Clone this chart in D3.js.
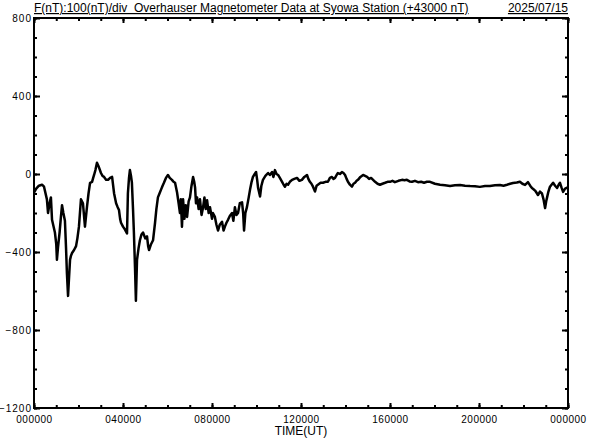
<!DOCTYPE html>
<html>
<head>
<meta charset="utf-8">
<script src="https://cdn.jsdelivr.net/npm/d3@7"></script>
<style>
  body { margin: 0; background: #fff; }
  text { font-family: "Liberation Sans", Arial, sans-serif; fill: #000; }
</style>
</head>
<body>
<script>
// hours since 00 UT, F - 43000 (nT)
let hours = [0.00,0.10,0.22,0.36,0.45,0.58,0.63,0.70,0.76,0.81,0.94,1.00,1.03,1.08,1.15,1.21,1.26,1.32,1.39,1.44,
  1.48,1.53,1.58,1.62,1.66,1.71,1.80,1.89,1.95,2.02,2.11,2.20,2.29,2.38,2.45,2.52,2.61,2.66,2.70,2.76,
  2.83,2.90,3.01,3.08,3.15,3.24,3.33,3.42,3.51,3.60,3.69,3.76,3.82,3.87,3.91,4.00,4.09,4.18,4.22,4.27,
  4.31,4.36,4.40,4.45,4.49,4.54,4.58,4.63,4.70,4.76,4.83,4.90,5.00,5.08,5.13,5.17,5.26,5.35,5.44,5.50,
  5.57,5.64,5.71,5.78,5.84,5.93,6.02,6.10,6.20,6.27,6.34,6.43,6.50,6.56,6.60,6.65,6.70,6.76,6.82,6.88,
  6.95,7.01,7.08,7.15,7.20,7.24,7.28,7.33,7.40,7.46,7.53,7.60,7.66,7.72,7.78,7.85,7.91,8.00,8.04,8.13,
  8.20,8.27,8.35,8.45,8.52,8.58,8.65,8.72,8.80,8.90,8.96,9.03,9.10,9.17,9.25,9.35,9.40,9.44,9.50,9.57,
  9.65,9.71,9.78,9.84,9.92,9.98,10.03,10.07,10.16,10.22,10.29,10.40,10.52,10.60,10.70,10.76,10.83,10.90,10.97,11.05,
  11.15,11.22,11.28,11.35,11.42,11.50,11.60,11.70,11.82,11.93,12.04,12.15,12.27,12.33,12.40,12.47,12.54,12.63,12.70,12.76,
  12.88,12.99,13.10,13.21,13.30,13.39,13.46,13.53,13.60,13.66,13.75,13.84,13.91,13.98,14.05,14.11,14.20,14.29,14.36,14.43,
  14.50,14.56,14.67,14.79,14.88,14.97,15.06,15.15,15.24,15.33,15.44,15.55,15.66,15.78,15.89,16.00,16.11,16.22,16.38,16.54,
  16.65,16.76,16.88,16.99,17.12,17.26,17.40,17.53,17.66,17.80,18.02,18.25,18.47,18.70,18.92,19.15,19.37,19.60,19.82,20.04,
  20.27,20.49,20.72,20.94,21.10,21.26,21.40,21.53,21.70,21.84,21.95,22.07,22.20,22.30,22.38,22.45,22.52,22.58,22.65,22.74,
  22.83,22.90,22.97,23.02,23.06,23.12,23.19,23.26,23.33,23.42,23.51,23.58,23.64,23.71,23.78,23.87,23.96,24.00];

let fValues = [-95,-75,-60,-55,-65,-130,-200,-150,-120,-235,-300,-360,-440,-375,-300,-220,-160,-200,-240,-380,
  -510,-625,-520,-440,-420,-405,-390,-370,-330,-270,-130,-150,-270,-170,-100,-45,-40,-20,-5,20,
  58,40,5,-10,-15,-30,-30,-20,-15,-100,-150,-170,-185,-230,-250,-270,-285,-305,-100,-20,
  20,-10,-45,-180,-300,-480,-650,-440,-380,-340,-310,-300,-330,-320,-370,-390,-360,-340,-250,-180,
  -120,-100,-80,-60,-45,-20,-5,-20,-30,-40,-45,-95,-150,-200,-130,-270,-130,-230,-160,-220,
  -140,-120,-60,-15,-40,-70,-150,-120,-180,-130,-210,-170,-120,-180,-135,-200,-170,-230,-200,-220,
  -260,-290,-260,-245,-290,-270,-250,-235,-215,-200,-240,-170,-210,-200,-150,-145,-200,-290,-200,-170,
  -120,-80,-40,-15,0,10,-30,-70,-115,-60,-30,-10,5,-5,10,-15,20,0,-5,-20,
  -40,-55,-65,-50,-55,-40,-30,-25,-20,-35,-30,-15,-5,-25,-40,-50,-65,-90,-60,-55,
  -45,-45,-40,-40,-20,-15,-25,-20,-5,5,0,10,5,-5,-25,-40,-55,-65,-50,-45,
  -35,-30,-15,-5,-10,-15,-25,-20,-30,-40,-50,-55,-50,-45,-40,-40,-35,-42,-35,-30,
  -32,-30,-38,-40,-35,-42,-40,-45,-40,-40,-50,-55,-58,-62,-58,-56,-60,-62,-63,-66,
  -62,-62,-58,-56,-60,-55,-50,-46,-44,-40,-50,-56,-42,-60,-72,-78,-85,-95,-108,-90,
  -100,-130,-175,-140,-120,-90,-65,-55,-45,-60,-72,-55,-45,-70,-92,-75,-70,-75];

let yTicksMajor = [800, 400, 0, -400, -800, -1200];
let xTicksMajor = [0, 4, 8, 12, 16, 20, 24];

let width = 592, height = 440;
let plotL = 34, plotR = 568, plotT = 18, plotB = 408;

let x = d3.scaleLinear().domain([0, 24]).range([plotL, plotR]);
let y = d3.scaleLinear().domain([-1200, 800]).range([plotB, plotT]);

let svg = d3.select("body").append("svg")
    .attr("width", width)
    .attr("height", height);

let fmtTime = function(h) { return d3.format("02d")(h % 24) + "0000"; };

let minorX = d3.range(0, 25, 1);
let minorY = d3.range(-1200, 801, 100);

// bottom
svg.append("g").attr("transform", `translate(0,${plotB})`)
    .call(d3.axisBottom(x).tickValues(minorX).tickSize(-3).tickFormat(""));
svg.append("g").attr("class", "xlab").attr("transform", `translate(0,${plotB})`)
    .call(d3.axisBottom(x).tickValues(xTicksMajor).tickSize(-5).tickPadding(8).tickFormat(fmtTime));
// top
svg.append("g").attr("transform", `translate(0,${plotT})`)
    .call(d3.axisTop(x).tickValues(minorX).tickSize(-3).tickFormat(""));
svg.append("g").attr("transform", `translate(0,${plotT})`)
    .call(d3.axisTop(x).tickValues(xTicksMajor).tickSize(-5).tickFormat(""));
// left
svg.append("g").attr("transform", `translate(${plotL},0)`)
    .call(d3.axisLeft(y).tickValues(minorY).tickSize(-3).tickFormat(""));
svg.append("g").attr("class", "ylab").attr("transform", `translate(${plotL},0)`)
    .call(d3.axisLeft(y).tickValues(yTicksMajor).tickSize(-6).tickPadding(2).tickFormat(d3.format("d")));
// right
svg.append("g").attr("transform", `translate(${plotR},0)`)
    .call(d3.axisRight(y).tickValues(minorY).tickSize(-3).tickFormat(""));
svg.append("g").attr("transform", `translate(${plotR},0)`)
    .call(d3.axisRight(y).tickValues(yTicksMajor).tickSize(-6).tickFormat(""));

svg.selectAll(".domain").remove();
svg.selectAll(".tick line").attr("stroke", "#000").attr("stroke-width", 2);
svg.selectAll(".xlab text").attr("font-size", 10).attr("letter-spacing", 0.5);
svg.selectAll(".ylab text").attr("font-size", 10).attr("letter-spacing", 1).attr("dy", "0.3em");

// frame
svg.append("rect")
    .attr("x", plotL).attr("y", plotT)
    .attr("width", plotR - plotL).attr("height", plotB - plotT)
    .attr("fill", "none")
    .attr("stroke", "#000")
    .attr("stroke-width", 2);

let line = d3.line()
    .x(function(d, i) { return x(hours[i]); })
    .y(function(d) { return y(d); });

svg.append("path")
    .datum(fValues)
    .attr("d", line)
    .attr("fill", "none")
    .attr("stroke", "#000")
    .attr("stroke-width", 2.5)
    .attr("stroke-linejoin", "round");

svg.append("text")
    .attr("x", plotL).attr("y", 12)
    .attr("font-size", 12)
    .attr("text-decoration", "underline")
    .style("white-space", "pre")
    .text("F(nT):100(nT)/div  Overhauser Magnetometer Data at Syowa Station (+43000 nT)");

svg.append("text")
    .attr("x", plotR).attr("y", 12)
    .attr("font-size", 12)
    .attr("text-anchor", "end")
    .attr("text-decoration", "underline")
    .text("2025/07/15");

svg.append("text")
    .attr("x", (plotL + plotR) / 2).attr("y", 435)
    .attr("font-size", 12)
    .attr("text-anchor", "middle")
    .text("TIME(UT)");
</script>
</body>
</html>
